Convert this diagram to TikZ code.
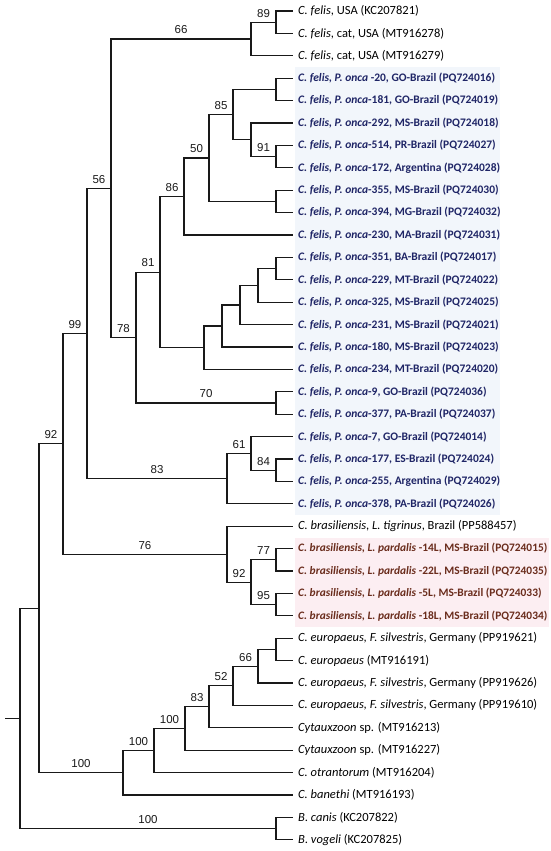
\documentclass[tikz,border=0pt]{standalone}
\usepackage{fontspec}
\setmainfont{Carlito}
\newfontfamily\arialfont{Liberation Sans}
\definecolor{onca}{HTML}{1F2566}
\definecolor{pard}{HTML}{6A2C1C}
\definecolor{oncabg}{HTML}{F2F6FB}
\definecolor{pardbg}{HTML}{FCEEF2}
\begin{document}
\begin{tikzpicture}[x=1pt,y=-1pt]
\tikzstyle{every node}=[font=\fontsize{12.5}{14}\selectfont]
\tikzstyle{leaf}=[anchor=west, inner xsep=5pt, inner ysep=1pt]
\tikzstyle{oncaleaf}=[leaf, text=onca, font=\fontsize{11.5}{13}\selectfont\bfseries]
\tikzstyle{pardleaf}=[leaf, text=pard, font=\fontsize{11.4}{13}\selectfont\bfseries]
\tikzstyle{bs}=[font=\arialfont\fontsize{11.5}{13}\selectfont, inner sep=1pt, above=3.5pt]
\tikzstyle{branch}=[line width=1.1pt, black!90]
\useasboundingbox (0,0) rectangle (550,851);
% shading
\fill[oncabg] (295,67) rectangle (500,515);
\fill[pardbg] (295,538) rectangle (549,627);
% felis USA
\node[leaf] (kc207821) at (293,11) {\textit{C. felis}, USA (KC207821)};
\node[leaf] (mt916278) at (293,33.4) {\textit{C. felis}, cat, USA (MT916278)};
\node[leaf] (mt916279) at (293,55.8) {\textit{C. felis}, cat, USA (MT916279)};
% felis onca
\node[oncaleaf] (pq724016) at (293,78.2) {\textit{C. felis, P. onca} -20, GO-Brazil (PQ724016)};
\node[oncaleaf] (pq724019) at (293,100.6) {\textit{C. felis, P. onca}-181, GO-Brazil (PQ724019)};
\node[oncaleaf] (pq724018) at (293,123) {\textit{C. felis, P. onca}-292, MS-Brazil (PQ724018)};
\node[oncaleaf] (pq724027) at (293,145.4) {\textit{C. felis, P. onca}-514, PR-Brazil (PQ724027)};
\node[oncaleaf] (pq724028) at (293,167.8) {\textit{C. felis, P. onca}-172, Argentina (PQ724028)};
\node[oncaleaf] (pq724030) at (293,190.2) {\textit{C. felis, P. onca}-355, MS-Brazil (PQ724030)};
\node[oncaleaf] (pq724032) at (293,212.6) {\textit{C. felis, P. onca}-394, MG-Brazil (PQ724032)};
\node[oncaleaf] (pq724031) at (293,235) {\textit{C. felis, P. onca}-230, MA-Brazil (PQ724031)};
\node[oncaleaf] (pq724017) at (293,257.4) {\textit{C. felis, P. onca}-351, BA-Brazil (PQ724017)};
\node[oncaleaf] (pq724022) at (293,279.8) {\textit{C. felis, P. onca}-229, MT-Brazil (PQ724022)};
\node[oncaleaf] (pq724025) at (293,302.2) {\textit{C. felis, P. onca}-325, MS-Brazil (PQ724025)};
\node[oncaleaf] (pq724021) at (293,324.6) {\textit{C. felis, P. onca}-231, MS-Brazil (PQ724021)};
\node[oncaleaf] (pq724023) at (293,347) {\textit{C. felis, P. onca}-180, MS-Brazil (PQ724023)};
\node[oncaleaf] (pq724020) at (293,369.4) {\textit{C. felis, P. onca}-234, MT-Brazil (PQ724020)};
\node[oncaleaf] (pq724036) at (293,391.8) {\textit{C. felis, P. onca}-9, GO-Brazil (PQ724036)};
\node[oncaleaf] (pq724037) at (293,414.2) {\textit{C. felis, P. onca}-377, PA-Brazil (PQ724037)};
\node[oncaleaf] (pq724014) at (293,436.6) {\textit{C. felis, P. onca}-7, GO-Brazil (PQ724014)};
\node[oncaleaf] (pq724024) at (293,459) {\textit{C. felis, P. onca}-177, ES-Brazil (PQ724024)};
\node[oncaleaf] (pq724029) at (293,481.4) {\textit{C. felis, P. onca}-255, Argentina (PQ724029)};
\node[oncaleaf] (pq724026) at (293,503.8) {\textit{C. felis, P. onca}-378, PA-Brazil (PQ724026)};
% brasiliensis
\node[leaf] (pp588457) at (293,526.2) {\textit{C. brasiliensis, L. tigrinus}, Brazil (PP588457)};
\node[pardleaf] (pq724015) at (293,548.6) {\textit{C. brasiliensis, L. pardalis} -14L, MS-Brazil (PQ724015)};
\node[pardleaf] (pq724035) at (293,571) {\textit{C. brasiliensis, L. pardalis} -22L, MS-Brazil (PQ724035)};
\node[pardleaf] (pq724033) at (293,593.4) {\textit{C. brasiliensis, L. pardalis} -5L, MS-Brazil (PQ724033)};
\node[pardleaf] (pq724034) at (293,615.8) {\textit{C. brasiliensis, L. pardalis} -18L, MS-Brazil (PQ724034)};
% europaeus and others
\node[leaf] (pp919621) at (293,638.2) {\textit{C. europaeus, F. silvestris}, Germany (PP919621)};
\node[leaf] (mt916191) at (293,660.6) {\textit{C. europaeus} (MT916191)};
\node[leaf] (pp919626) at (293,683) {\textit{C. europaeus, F. silvestris}, Germany (PP919626)};
\node[leaf] (pp919610) at (293,705.4) {\textit{C. europaeus, F. silvestris}, Germany (PP919610)};
\node[leaf] (mt916213) at (293,727.8) {\textit{Cytauxzoon} sp. (MT916213)};
\node[leaf] (mt916227) at (293,750.2) {\textit{Cytauxzoon} sp. (MT916227)};
\node[leaf] (mt916204) at (293,772.6) {\textit{C. otrantorum} (MT916204)};
\node[leaf] (mt916193) at (293,795) {\textit{C. banethi} (MT916193)};
% babesia
\node[leaf] (kc207822) at (293,817.4) {\textit{B. canis} (KC207822)};
\node[leaf] (kc207825) at (293,839.8) {\textit{B. vogeli} (KC207825)};
%%%%%%%%%%%%%%%%
% inner nodes
\coordinate (stub) at (5,718.5);
\coordinate (root) at (20,718.5);
\coordinate (na) at (39,608.3);
\coordinate (nbab) at (276,828.6);
\coordinate (n92) at (63,443.8);
\coordinate (n99) at (87,333.4);
\coordinate (n56) at (111,188.3);
\coordinate (n66) at (251,39);
\coordinate (n89) at (276,22.2);
\coordinate (n78) at (136,337.5);
\coordinate (n81) at (160,272.1);
\coordinate (n86) at (184,196.5);
\coordinate (n50) at (209,158);
\coordinate (n85) at (233,114.6);
\coordinate (ngo) at (276,89.4);
\coordinate (nw) at (251,139.8);
\coordinate (n91) at (276,156.6);
\coordinate (nmg) at (276,201.4);
\coordinate (nx) at (204,347.7);
\coordinate (nq) at (222,326);
\coordinate (nr) at (240,305);
\coordinate (ns) at (258,285.4);
\coordinate (nt) at (276,268.6);
\coordinate (n70) at (276,403);
\coordinate (n83) at (227,478.6);
\coordinate (n61) at (251,453.4);
\coordinate (n84) at (276,470.2);
\coordinate (n76) at (227,554.2);
\coordinate (n92b) at (251,582.2);
\coordinate (n77) at (276,559.8);
\coordinate (n95) at (276,604.6);
\coordinate (n100a) at (123,772.8);
\coordinate (n100b) at (154,750.6);
\coordinate (n100c) at (185,728.5);
\coordinate (n83b) at (209,706.8);
\coordinate (n52) at (233,685.8);
\coordinate (n66b) at (258,666.2);
\coordinate (neu) at (276,649.4);
% branches
\draw[branch] (stub) -- (root);
\draw[branch] (root) |- (na);
\draw[branch] (root) |- node[bs, pos=.75] {100} (nbab);
\draw[branch] (nbab) |- (kc207822.west);
\draw[branch] (nbab) |- (kc207825.west);
\draw[branch] (na) |- node[bs, pos=.75] {92} (n92);
\draw[branch] (na) |- node[bs, pos=.75] {100} (n100a);
\draw[branch] (n92) |- node[bs, pos=.75] {99} (n99);
\draw[branch] (n92) |- node[bs, pos=.75] {76} (n76);
\draw[branch] (n99) |- node[bs, pos=.75] {56} (n56);
\draw[branch] (n99) |- node[bs, pos=.75] {83} (n83);
\draw[branch] (n56) |- node[bs, pos=.75] {66} (n66);
\draw[branch] (n56) |- node[bs, pos=.75] {78} (n78);
\draw[branch] (n66) |- node[bs, pos=.75] {89} (n89);
\draw[branch] (n66) |- (mt916279.west);
\draw[branch] (n89) |- (kc207821.west);
\draw[branch] (n89) |- (mt916278.west);
\draw[branch] (n78) |- node[bs, pos=.75] {81} (n81);
\draw[branch] (n78) |- node[bs, pos=.75] {70} (n70);
\draw[branch] (n70) |- (pq724036.west);
\draw[branch] (n70) |- (pq724037.west);
\draw[branch] (n81) |- node[bs, pos=.75] {86} (n86);
\draw[branch] (n81) |- (nx);
\draw[branch] (n86) |- node[bs, pos=.75] {50} (n50);
\draw[branch] (n86) |- (pq724031.west);
\draw[branch] (n50) |- node[bs, pos=.75] {85} (n85);
\draw[branch] (n50) |- (nmg);
\draw[branch] (nmg) |- (pq724030.west);
\draw[branch] (nmg) |- (pq724032.west);
\draw[branch] (n85) |- (ngo);
\draw[branch] (n85) |- (nw);
\draw[branch] (ngo) |- (pq724016.west);
\draw[branch] (ngo) |- (pq724019.west);
\draw[branch] (nw) |- (pq724018.west);
\draw[branch] (nw) |- node[bs, pos=.75] {91} (n91);
\draw[branch] (n91) |- (pq724027.west);
\draw[branch] (n91) |- (pq724028.west);
\draw[branch] (nx) |- (nq);
\draw[branch] (nx) |- (pq724020.west);
\draw[branch] (nq) |- (nr);
\draw[branch] (nq) |- (pq724023.west);
\draw[branch] (nr) |- (ns);
\draw[branch] (nr) |- (pq724021.west);
\draw[branch] (ns) |- (nt);
\draw[branch] (ns) |- (pq724025.west);
\draw[branch] (nt) |- (pq724017.west);
\draw[branch] (nt) |- (pq724022.west);
\draw[branch] (n83) |- node[bs, pos=.75] {61} (n61);
\draw[branch] (n83) |- (pq724026.west);
\draw[branch] (n61) |- (pq724014.west);
\draw[branch] (n61) |- node[bs, pos=.75] {84} (n84);
\draw[branch] (n84) |- (pq724024.west);
\draw[branch] (n84) |- (pq724029.west);
\draw[branch] (n76) |- (pp588457.west);
\draw[branch] (n76) |- node[bs, pos=.75] {92} (n92b);
\draw[branch] (n92b) |- node[bs, pos=.75] {77} (n77);
\draw[branch] (n92b) |- node[bs, pos=.75] {95} (n95);
\draw[branch] (n77) |- (pq724015.west);
\draw[branch] (n77) |- (pq724035.west);
\draw[branch] (n95) |- (pq724033.west);
\draw[branch] (n95) |- (pq724034.west);
\draw[branch] (n100a) |- node[bs, pos=.75] {100} (n100b);
\draw[branch] (n100a) |- (mt916193.west);
\draw[branch] (n100b) |- node[bs, pos=.75] {100} (n100c);
\draw[branch] (n100b) |- (mt916204.west);
\draw[branch] (n100c) |- node[bs, pos=.75] {83} (n83b);
\draw[branch] (n100c) |- (mt916227.west);
\draw[branch] (n83b) |- node[bs, pos=.75] {52} (n52);
\draw[branch] (n83b) |- (mt916213.west);
\draw[branch] (n52) |- node[bs, pos=.75] {66} (n66b);
\draw[branch] (n52) |- (pp919610.west);
\draw[branch] (n66b) |- (neu);
\draw[branch] (n66b) |- (pp919626.west);
\draw[branch] (neu) |- (pp919621.west);
\draw[branch] (neu) |- (mt916191.west);
\end{tikzpicture}
\end{document}
